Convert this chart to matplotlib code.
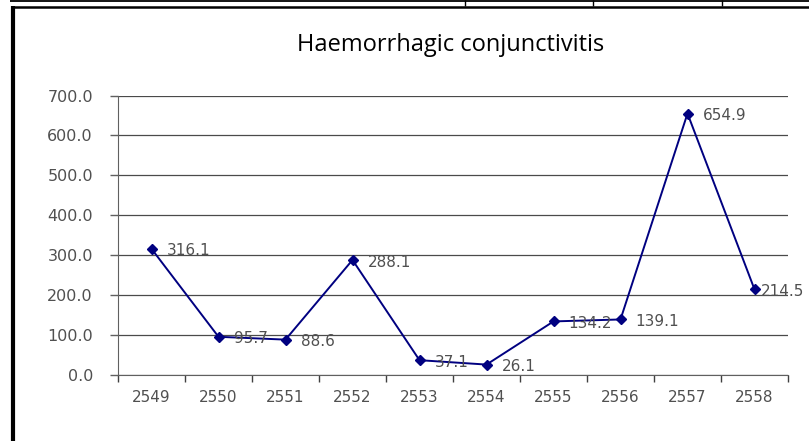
import matplotlib
matplotlib.use("Agg")
import matplotlib.pyplot as plt
from matplotlib.lines import Line2D
import numpy as np

years = ["2549", "2550", "2551", "2552", "2553", "2554", "2555", "2556", "2557", "2558"]
values = [316.1, 95.7, 88.6, 288.1, 37.1, 26.1, 134.2, 139.1, 654.9, 214.5]
y_ticks = [0, 100, 200, 300, 400, 500, 600, 700]
title = "Haemorrhagic conjunctivitis"

W, H = 809, 441
fig = plt.figure(figsize=(W / 100, H / 100), dpi=100)
fig.patch.set_facecolor("white")

ax = fig.add_axes([118 / W, 1 - 375 / H, (788 - 118) / W, (375 - 95.5) / H])
x = np.arange(len(years))
ax.plot(x, values, color="#000080", lw=1.4, marker="D", markersize=5.5,
        markerfacecolor="#000080", markeredgecolor="#000080", zorder=3)

n = len(values)
for i, (xi, v) in enumerate(zip(x, values)):
    dx = 4.5 if i == n - 1 else 11
    ax.annotate(f"{v:.1f}", (xi, v), xytext=(dx, -1.5), textcoords="offset points",
                ha="left", va="center", fontsize=11, color="#505050",
                family="DejaVu Sans", zorder=4, annotation_clip=False)

ax.set_xlim(-0.5, len(years) - 0.5)
ax.set_ylim(0, 700)
ax.set_yticks(y_ticks)
ax.set_yticklabels([f"{t:.1f}" for t in y_ticks], fontsize=11.5, color="#505050",
                   family="DejaVu Sans")
ax.yaxis.grid(True, color="#4a4a4a", lw=0.9)
ax.set_axisbelow(True)

ax.set_xticks(x)
ax.set_xticklabels(years, fontsize=11, color="#505050", family="DejaVu Sans")
ax.set_xticks(np.arange(-0.5, len(years), 1.0), minor=True)
ax.tick_params(axis="x", which="major", length=0, pad=11)
ax.tick_params(axis="x", which="minor", length=5, color="#404040", width=1)
ax.tick_params(axis="y", length=6, color="#606060", width=1, pad=12)

for s in ["top", "right"]:
    ax.spines[s].set_visible(False)
ax.spines["left"].set_color("#606060")
ax.spines["bottom"].set_color("#606060")

fig.text(451 / W, 1 - 45 / H, title, ha="center", va="center", fontsize=17,
         family="Open Sans", color="black")

# page borders
def fl(xs, ys, lw):
    fig.add_artist(Line2D([xx / W for xx in xs], [1 - yy / H for yy in ys],
                          color="black", lw=lw, transform=fig.transFigure,
                          solid_capstyle="butt"))

fl([10, W], [1.0, 1.0], 1.3)
fl([11, W], [6.5, 6.5], 1.8)
fl([13, 13], [5.5, H], 3.0)
for vx in [465, 593, 722]:
    fl([vx, vx], [0, 5.5], 1)

fig.savefig("out.png", dpi=100)
